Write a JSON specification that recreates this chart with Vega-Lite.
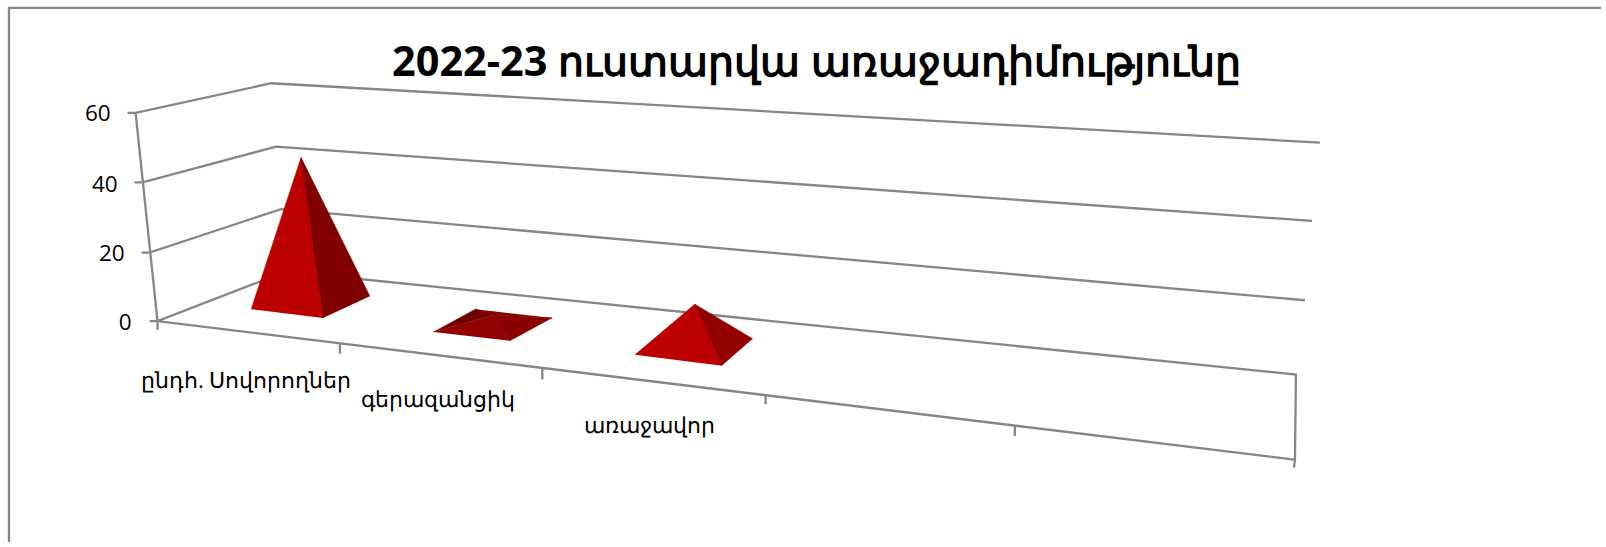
{"$schema":"https://vega.github.io/schema/vega-lite/v6.json","width":1606,"height":547,"autosize":{"type":"fit","contains":"padding"},"padding":0,"background":"white","config":{"view":{"stroke":null}},
"datasets":{
"frame":[
{"id":"border","i":0,"x":9,"y":547},{"id":"border","i":1,"x":9,"y":8},{"id":"border","i":2,"x":1606,"y":8},
{"id":"grid60","i":0,"x":128,"y":114},{"id":"grid60","i":1,"x":136,"y":114},{"id":"grid60","i":2,"x":272,"y":84},{"id":"grid60","i":3,"x":1324,"y":144},
{"id":"grid40","i":0,"x":135,"y":184},{"id":"grid40","i":1,"x":143,"y":184},{"id":"grid40","i":2,"x":277,"y":148},{"id":"grid40","i":3,"x":1316,"y":223},
{"id":"grid20","i":0,"x":142,"y":255},{"id":"grid20","i":1,"x":150,"y":255},{"id":"grid20","i":2,"x":282,"y":211},{"id":"grid20","i":3,"x":1309,"y":303},
{"id":"grid0","i":0,"x":150,"y":324},{"id":"grid0","i":1,"x":158,"y":324},{"id":"grid0","i":2,"x":287,"y":274},{"id":"grid0","i":3,"x":1300,"y":378},{"id":"grid0","i":4,"x":1299,"y":464},{"id":"grid0","i":5,"x":158,"y":324},
{"id":"valueAxis","i":0,"x":136,"y":114},{"id":"valueAxis","i":1,"x":158,"y":324},
{"id":"t0","i":0,"x":158,"y":324},{"id":"t0","i":1,"x":158,"y":333},
{"id":"t1","i":0,"x":341,"y":347},{"id":"t1","i":1,"x":341,"y":357},
{"id":"t2","i":0,"x":544,"y":372},{"id":"t2","i":1,"x":544,"y":383},
{"id":"t3","i":0,"x":768,"y":399},{"id":"t3","i":1,"x":768,"y":408},
{"id":"t4","i":0,"x":1018,"y":430},{"id":"t4","i":1,"x":1018,"y":440},
{"id":"t5","i":0,"x":1299,"y":464},{"id":"t5","i":1,"x":1298,"y":472}
],
"faces":[
{"face":"a-front","shade":"bright","i":0,"x":252,"y":312},{"face":"a-front","shade":"bright","i":1,"x":302,"y":159},{"face":"a-front","shade":"bright","i":2,"x":324,"y":321},
{"face":"a-right","shade":"dark","i":0,"x":324,"y":321},{"face":"a-right","shade":"dark","i":1,"x":302,"y":159},{"face":"a-right","shade":"dark","i":2,"x":371,"y":299},
{"face":"b-back","shade":"dim","i":0,"x":477,"y":312},{"face":"b-back","shade":"dim","i":1,"x":495,"y":318},{"face":"b-back","shade":"dim","i":2,"x":554,"y":321},
{"face":"b-left","shade":"deep","i":0,"x":435,"y":335},{"face":"b-left","shade":"deep","i":1,"x":477,"y":312},{"face":"b-left","shade":"deep","i":2,"x":495,"y":318},
{"face":"b-front","shade":"mid","i":0,"x":435,"y":335},{"face":"b-front","shade":"mid","i":1,"x":495,"y":318},{"face":"b-front","shade":"mid","i":2,"x":512,"y":344},
{"face":"b-right","shade":"dim","i":0,"x":512,"y":344},{"face":"b-right","shade":"dim","i":1,"x":495,"y":318},{"face":"b-right","shade":"dim","i":2,"x":554,"y":321},
{"face":"c-front","shade":"bright","i":0,"x":637,"y":358},{"face":"c-front","shade":"bright","i":1,"x":697,"y":307},{"face":"c-front","shade":"bright","i":2,"x":724,"y":369},
{"face":"c-right","shade":"mid","i":0,"x":724,"y":369},{"face":"c-right","shade":"mid","i":1,"x":697,"y":307},{"face":"c-right","shade":"mid","i":2,"x":755,"y":342}
],
"ticks":[{"t":"60","x":111,"y":115},{"t":"40","x":118,"y":187},{"t":"20","x":125,"y":256},{"t":"0","x":132,"y":326}],
"cats":[{"t":"ընդհ. Սովորողներ","x":247,"y":392},{"t":"գերազանցիկ","x":439,"y":411},{"t":"առաջավոր","x":652,"y":437}],
"title":[{"t":"2022-23 ուստարվա առաջադիմությունը","x":819,"y":77}]
},
"encoding":{
"x":{"field":"x","type":"quantitative","scale":{"domain":[0,1606],"nice":false,"zero":false},"axis":null},
"y":{"field":"y","type":"quantitative","scale":{"domain":[547,0],"nice":false,"zero":false},"axis":null}
},
"layer":[
{"data":{"name":"frame"},"mark":{"type":"line","stroke":"#868686","strokeWidth":2.3,"interpolate":"linear"},"encoding":{"detail":{"field":"id"},"order":{"field":"i","type":"quantitative"}}},
{"data":{"name":"faces"},"mark":{"type":"line","filled":true,"interpolate":"linear","strokeWidth":0.6},"encoding":{"detail":{"field":"face"},"order":{"field":"i","type":"quantitative"},
"color":{"field":"shade","type":"nominal","legend":null,"scale":{"domain":["bright","mid","dim","dark","deep"],"range":["#BC0000","#920000","#8A0000","#800000","#6E0000"]}},
"stroke":{"field":"shade","type":"nominal","legend":null,"scale":{"domain":["bright","mid","dim","dark","deep"],"range":["#BC0000","#920000","#8A0000","#800000","#6E0000"]}}}},
{"data":{"name":"ticks"},"mark":{"type":"text","align":"right","baseline":"middle","font":"Open Sans","fontSize":22.5,"fill":"#000000"},"encoding":{"text":{"field":"t"}}},
{"data":{"name":"cats"},"mark":{"type":"text","align":"center","baseline":"alphabetic","font":"Open Sans","fontSize":22,"fill":"#000000"},"encoding":{"text":{"field":"t"}}},
{"data":{"name":"title"},"mark":{"type":"text","align":"center","baseline":"alphabetic","font":"Open Sans","fontWeight":"bold","fontSize":41.4,"fill":"#000000"},"encoding":{"text":{"field":"t"}}}
]}
